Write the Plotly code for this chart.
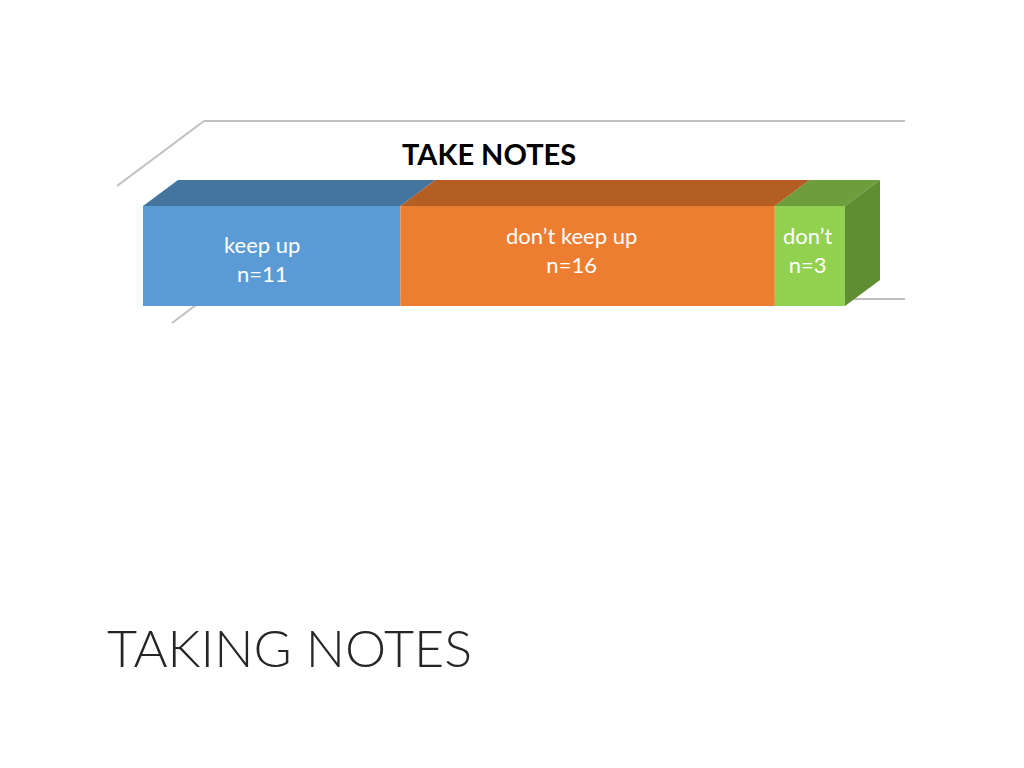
import plotly.graph_objects as go

# data
categories = ["keep up", "don\u2019t keep up", "don\u2019t"]
counts = [11, 16, 3]
labels = ["keep up<br>n=11", "don\u2019t keep up<br>n=16", "don\u2019t<br>n=3"]

front_colors = ["#5B9BD5", "#ED7D31", "#92D050"]
top_colors = ["#44759F", "#B45E24", "#6E9E3C"]
side_color = "#5F8D32"

W, H = 1024, 768
OFF = 8              # page body margin in the browser
px_per_unit = 23.4
x0_px = 143 - OFF
bar_y = 256 - OFF    # centre of the bar (pixel-like y units)
bar_h = 100
dx = 35 / px_per_unit  # depth offset in data units
dy = -26               # depth offset in y units

fig = go.Figure()

bases = []
b = 0
for v in counts:
    bases.append(b)
    b += v
total = b

# front faces
for cat, v, base, col in zip(categories, counts, bases, front_colors):
    fig.add_trace(go.Bar(
        y=[bar_y], x=[v], base=[base], orientation="h", width=bar_h,
        marker=dict(color=col, line=dict(width=0)), name=cat,
        hoverinfo="skip",
    ))

# top faces
top = bar_y - bar_h / 2
for v, base, col in zip(counts, bases, top_colors):
    xs = [base, base + v, base + v + dx, base + dx, base]
    ys = [top, top, top + dy, top + dy, top]
    fig.add_trace(go.Scatter(x=xs, y=ys, fill="toself", fillcolor=col,
                             mode="lines", line=dict(width=0), hoverinfo="skip"))

# right side face
bot = bar_y + bar_h / 2
fig.add_trace(go.Scatter(
    x=[total, total + dx, total + dx, total, total],
    y=[top, top + dy, bot + dy, bot, top],
    fill="toself", fillcolor=side_color, mode="lines", line=dict(width=0),
    hoverinfo="skip"))

# labels
label_dx = [-0.4, -0.7, -0.1]
label_y = [259 - OFF, 250 - OFF, 250 - OFF]
for v, base, txt, ddx, ly in zip(counts, bases, labels, label_dx, label_y):
    fig.add_annotation(x=base + v / 2 + ddx, y=ly, text=txt, showarrow=False,
                       xanchor="center", yanchor="middle",
                       font=dict(family="Lato", size=22, color="white"))

# floor / wall lines of the 3d chart
def px(x, y):
    return (x - OFF) / W, 1 - (y - OFF) / H

grey = dict(color="#BFBFBF", width=2)
segs = [((117, 186), (204, 121)), ((204, 121), (905, 121)),
        ((172, 323), (204, 299)), ((204, 299), (905, 299))]
for (a, c) in segs:
    xa, ya = px(*a)
    xc, yc = px(*c)
    fig.add_shape(type="line", xref="paper", yref="paper", x0=xa, y0=ya,
                  x1=xc, y1=yc, line=grey, layer="below")

tx, ty = px(489, 153)
fig.add_annotation(xref="paper", yref="paper", x=tx, y=ty,
                   xanchor="center", yanchor="middle",
                   text="<b>TAKE NOTES</b>", showarrow=False,
                   font=dict(family="Lato", size=29, color="black"))

sx, sy = px(105, 647)
fig.add_annotation(xref="paper", yref="paper", x=sx, y=sy,
                   xanchor="left", yanchor="middle", text="TAKING NOTES",
                   showarrow=False,
                   font=dict(family="Lato", size=52, color="#262626", weight=300))

fig.update_layout(
    width=W, height=H,
    margin=dict(l=0, r=0, t=0, b=0),
    paper_bgcolor="white", plot_bgcolor="white",
    barmode="overlay", showlegend=False,
    xaxis=dict(range=[-x0_px / px_per_unit, (W - x0_px) / px_per_unit],
               visible=False, fixedrange=True),
    yaxis=dict(range=[H, 0], visible=False, fixedrange=True),
)

fig.write_html("out.html")
